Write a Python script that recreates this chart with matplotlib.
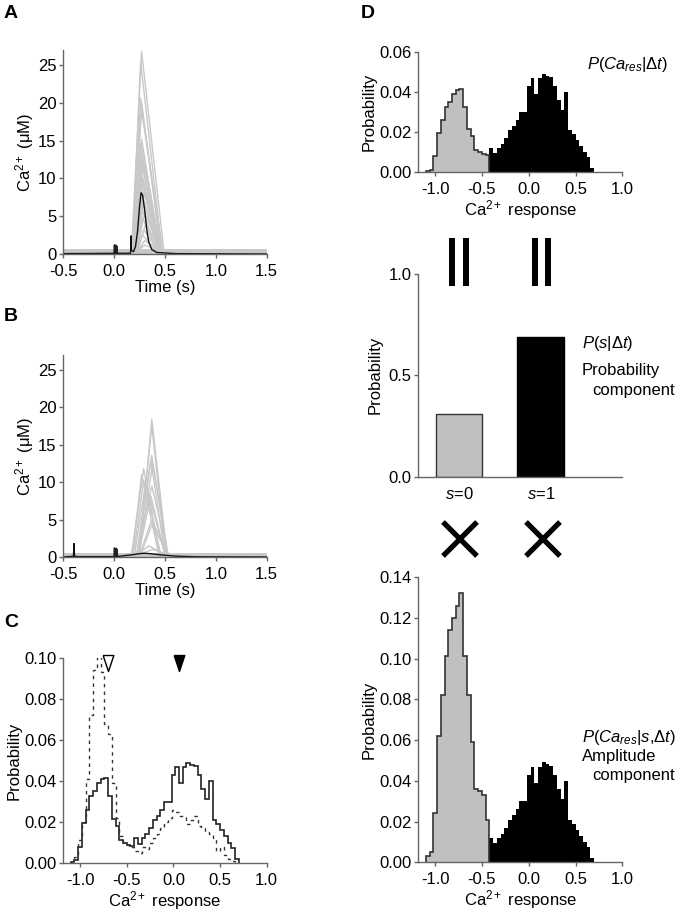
import matplotlib
matplotlib.use("Agg")
import matplotlib.pyplot as plt
import numpy as np
from matplotlib.lines import Line2D

plt.rcParams.update({
    "font.family": "Liberation Sans",
    "font.size": 12,
    "mathtext.fontset": "custom",
    "mathtext.rm": "Liberation Sans",
    "mathtext.it": "Liberation Sans:italic",
    "mathtext.bf": "Liberation Sans:bold",
})

W, H = 685, 913

# ---- panel A / B traces: (onset, peak time, peak Ca, offset)
a_traces = [
    (0.17, 0.27, 26.8, 0.49), (0.18, 0.26, 25.5, 0.47), (0.18, 0.26, 20.6, 0.47),
    (0.19, 0.27, 20.0, 0.46), (0.17, 0.27, 19.0, 0.48), (0.19, 0.27, 15.2, 0.45),
    (0.18, 0.26, 14.6, 0.44), (0.20, 0.28, 13.8, 0.46), (0.19, 0.27, 13.0, 0.45),
    (0.20, 0.27, 12.2, 0.44), (0.20, 0.28, 11.4, 0.46), (0.19, 0.26, 10.8, 0.43),
    (0.21, 0.28, 10.2, 0.45), (0.20, 0.27, 9.5, 0.44), (0.22, 0.29, 9.0, 0.46),
    (0.21, 0.30, 8.2, 0.47), (0.20, 0.28, 7.6, 0.43), (0.22, 0.29, 7.0, 0.45),
    (0.21, 0.27, 6.2, 0.42), (0.22, 0.30, 5.5, 0.46), (0.20, 0.28, 4.8, 0.42),
    (0.23, 0.31, 4.0, 0.47), (0.22, 0.29, 3.2, 0.44), (0.21, 0.28, 2.5, 0.43),
    (0.23, 0.30, 1.8, 0.45), (0.22, 0.30, 1.2, 0.46),
]
b_traces = [
    (0.25, 0.37, 18.4, 0.52), (0.24, 0.37, 17.5, 0.51), (0.23, 0.37, 13.6, 0.52),
    (0.22, 0.36, 13.0, 0.50), (0.24, 0.38, 12.5, 0.53), (0.17, 0.29, 11.8, 0.45),
    (0.18, 0.27, 11.0, 0.44), (0.19, 0.29, 10.3, 0.46), (0.20, 0.31, 10.0, 0.50),
    (0.22, 0.37, 9.5, 0.53), (0.24, 0.36, 8.2, 0.50), (0.25, 0.37, 5.0, 0.52),
    (0.26, 0.37, 4.3, 0.54), (0.23, 0.34, 1.5, 0.50), (0.22, 0.38, 1.0, 0.55),
]
trace_base = 0.3
time_span = [-0.5, 1.5]
noise_band = (0.05, 0.6)

a_mean_t = [-0.5, 0.16, 0.163, 0.166, 0.169, 0.19, 0.21, 0.23, 0.25, 0.265,
            0.28, 0.30, 0.32, 0.34, 0.37, 0.42, 0.6, 1.5]
a_mean_y = [0.05, 0.1, 0.5, 2.4, 0.5, 0.3, 1.0, 3.0, 6.3, 8.1,
            7.8, 5.8, 3.3, 1.6, 0.6, 0.2, 0.05, 0.0]
b_mean_t = [-0.5, -0.40, -0.395, -0.39, -0.35, 0.0, 0.05, 0.15, 0.25, 0.30,
            0.35, 0.45, 0.6, 0.8, 1.5]
b_mean_y = [0.0, 0.1, 1.8, 0.1, 0.05, 0.05, 0.1, 0.25, 0.45, 0.5,
            0.45, 0.3, 0.12, 0.03, 0.0]
artifact_t = [0.0, 0.004, 0.008, 0.012, 0.016, 0.020, 0.024, 0.028, 0.03]
artifact_y = [0.2, 1.2, 0.1, 1.1, 0.2, 1.15, 0.1, 1.0, 0.3]

# ---- response histograms (bin width 0.04 from -1.10)
bin_start, bin_width = -1.10, 0.04
resp_fail = [0.0007, 0.0013, 0.008, 0.0195, 0.026, 0.0325, 0.035, 0.039, 0.041,
             0.0415, 0.0325, 0.0215, 0.018, 0.011, 0.010, 0.009, 0.0085]
resp_success = [0.012, 0.0095, 0.012, 0.014, 0.017, 0.021, 0.023, 0.026, 0.030,
                0.030, 0.043, 0.047, 0.039, 0.047, 0.049, 0.048, 0.0475, 0.043,
                0.036, 0.031, 0.040, 0.021, 0.019, 0.016, 0.013, 0.010, 0.0075, 0.002]
resp_other = [0.0, 0.003, 0.011, 0.020, 0.041, 0.072, 0.094, 0.101, 0.093,
              0.068, 0.063, 0.039, 0.022, 0.013, 0.010, 0.009, 0.008, 0.006,
              0.005, 0.008, 0.007, 0.010, 0.012, 0.014, 0.017, 0.020, 0.022,
              0.026, 0.025, 0.023, 0.023, 0.019, 0.021, 0.023, 0.018, 0.017,
              0.015, 0.014, 0.012, 0.006, 0.008, 0.004, 0.002, 0.001, 0.0]
fail_cond = [0.003, 0.005, 0.024, 0.062, 0.082, 0.101, 0.114, 0.120, 0.126,
             0.132, 0.101, 0.082, 0.059, 0.036, 0.035, 0.033, 0.021]
peak_markers = [(-0.70, 0.0975), (0.056, 0.0975)]

s_labels = ["$\\mathit{s}$=0", "$\\mathit{s}$=1"]
s_prob = [0.31, 0.69]

GRAY = "#c0c0c0"
TRACE = "#c8c8c8"
SPINE = "#666666"


def rect(l, t, r, b):
    return [l / W, 1 - b / H, (r - l) / W, (b - t) / H]


def style(ax):
    for s in ("top", "right"):
        ax.spines[s].set_visible(False)
    for s in ("left", "bottom"):
        ax.spines[s].set_color(SPINE)
        ax.spines[s].set_linewidth(1.0)
    ax.tick_params(length=3, width=1, color=SPINE, pad=2, labelsize=12)
    ax.tick_params(axis="x", pad=4)


fig = plt.figure(figsize=(W / 100, H / 100), dpi=100)

n_all = len(resp_fail) + len(resp_success)
edges = bin_start + bin_width * np.arange(n_all + 1)
split = len(resp_fail)
resp_all = np.array(resp_fail + resp_success)

# ---- A and B
for box, traces, mt, my in [((63.3, 50, 266.7, 254), a_traces, a_mean_t, a_mean_y),
                            ((63.3, 355, 266.7, 557), b_traces, b_mean_t, b_mean_y)]:
    ax = fig.add_axes(rect(*box))
    style(ax)
    ax.fill_between(time_span, noise_band[0], noise_band[1], color=TRACE, lw=0)
    for on, pk_t, pk, off in traces:
        ax.plot([time_span[0], on, pk_t, off, time_span[1]],
                [trace_base, trace_base, pk, trace_base, trace_base],
                color=TRACE, lw=1.0)
    ax.plot(artifact_t, artifact_y, color="#222222", lw=1.2)
    ax.plot(mt, my, color="#111111", lw=1.0)
    ax.set_xlim(-0.5, 1.5)
    ax.set_ylim(0, 27)
    ax.set_xticks([-0.5, 0.0, 0.5, 1.0, 1.5])
    ax.set_xticklabels(["-0.5", "0.0", "0.5", "1.0", "1.5"])
    ax.set_yticks([0, 5, 10, 15, 20, 25])
    ax.set_xlabel("Time (s)", labelpad=1)
    ax.set_ylabel("Ca$^{2+}$ (μM)", labelpad=1)

# ---- C
ax = fig.add_axes(rect(63.3, 658, 266.7, 863))
style(ax)
ax.stairs(resp_all, edges, color="#222222", lw=1.2)
ax.stairs(resp_other, edges, color="#333333", lw=1.0, ls=(0, (2.5, 3.0)))
tri = [(-1, 1.5), (1, 1.5), (0, -1.5), (-1, 1.5)]
ax.plot(*peak_markers[0], marker=tri, ms=11.5, mfc="white", mec="black",
        mew=1.0, clip_on=False)
ax.plot(*peak_markers[1], marker=tri, ms=11.5, mfc="black", mec="black",
        clip_on=False)
ax.set_xlim(-1.18, 1.0)
ax.set_ylim(0, 0.1)
ax.set_xticks([-1.0, -0.5, 0.0, 0.5, 1.0])
ax.set_xticklabels(["-1.0", "-0.5", "0.0", "0.5", "1.0"])
ax.set_yticks([0, 0.02, 0.04, 0.06, 0.08, 0.10])
ax.set_yticklabels(["0.00", "0.02", "0.04", "0.06", "0.08", "0.10"])
ax.set_xlabel("Ca$^{2+}$ response", labelpad=1)
ax.set_ylabel("Probability", labelpad=2)

# ---- D top and bottom histograms
for box, gvals, ymax, yt in [((418.3, 52, 622.3, 172.3), resp_fail, 0.06,
                              [0, 0.02, 0.04, 0.06]),
                             ((418.3, 577, 622.3, 862.3), fail_cond, 0.14,
                              [0, 0.02, 0.04, 0.06, 0.08, 0.10, 0.12, 0.14])]:
    ax = fig.add_axes(rect(*box))
    style(ax)
    ax.stairs(resp_success, edges[split:], fill=True, color="black", lw=0)
    ax.stairs(gvals, edges[:split + 1], fill=True, color=GRAY, lw=0)
    ax.stairs(gvals, edges[:split + 1], color="#333333", lw=1.2)
    ax.set_xlim(-1.18, 1.0)
    ax.set_ylim(0, ymax)
    ax.set_xticks([-1.0, -0.5, 0.0, 0.5, 1.0])
    ax.set_xticklabels(["-1.0", "-0.5", "0.0", "0.5", "1.0"])
    ax.set_yticks(yt)
    ax.set_yticklabels(["%.2f" % v for v in yt])
    ax.set_xlabel("Ca$^{2+}$ response", labelpad=1)
    ax.set_ylabel("Probability", labelpad=2)

# ---- D middle bars
ax = fig.add_axes(rect(418.3, 274, 622.3, 476.7))
style(ax)
ax.bar([0, 1], s_prob, width=0.57, color=[GRAY, "black"],
       edgecolor=["#333333", "black"], lw=1.0)
ax.set_xlim(-0.5, 2.0)
ax.set_ylim(0, 1.0)
ax.set_xticks([0, 1])
ax.set_xticklabels(s_labels)
ax.tick_params(axis="x", length=0, pad=7)
ax.set_yticks([0, 0.5, 1.0])
ax.set_yticklabels(["0.0", "0.5", "1.0"])
ax.set_ylabel("Probability", labelpad=4)


# ---- annotations
def ftext(x, y, s, **kw):
    fig.text(x / W, 1 - y / H, s, va="center", **kw)


ftext(668, 65, r"$\mathit{P}(\mathit{Ca}_{\mathit{res}}|\Delta\mathit{t})$", ha="right")
ftext(582, 343, r"$\mathit{P}(\mathit{s}|\Delta\mathit{t})$", ha="left")
ftext(582, 370, "Probability", ha="left")
ftext(592, 390, "component", ha="left")
ftext(582, 737,
      r"$\mathit{P}(\mathit{Ca}_{\mathit{res}}|\mathit{s}{,}\Delta\mathit{t})$",
      ha="left")
ftext(582, 756, "Amplitude", ha="left")
ftext(592, 775, "component", ha="left")

for lab, x, y in [("A", 4, 14), ("B", 4, 316), ("C", 4, 622), ("D", 361, 14)]:
    ftext(x, y, lab, ha="left", fontsize=14, fontweight="bold")

for x in (452, 466, 535, 548):
    fig.add_artist(Line2D([x / W, x / W], [1 - 238 / H, 1 - 286 / H],
                          color="black", lw=4.3, solid_capstyle="butt"))
for cx in (460, 543):
    for d in (-1, 1):
        fig.add_artist(Line2D([(cx - 17) / W, (cx + 17) / W],
                              [1 - (539 - 17 * d) / H, 1 - (539 + 17 * d) / H],
                              color="black", lw=3.8, solid_capstyle="butt"))

fig.savefig("out.png", dpi=100)
